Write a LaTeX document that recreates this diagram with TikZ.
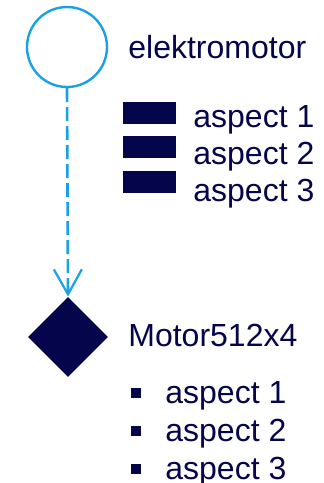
\documentclass[tikz,border=0pt]{standalone}
\usepackage{fontspec}
\setmainfont{Liberation Sans}
\usetikzlibrary{shapes.geometric,arrows.meta}
\definecolor{navy}{RGB}{5,5,75}
\definecolor{skyb}{RGB}{25,160,230}
\begin{document}
\begin{tikzpicture}[x=0.5pt,y=-0.5pt,
  lbl/.style={anchor=base west,inner sep=0,text=navy,font=\fontsize{16}{19}\selectfont},
  bar/.style={rectangle,fill=navy,minimum width=26.5pt,minimum height=11pt,inner sep=0},
  bul/.style={rectangle,fill=navy,minimum size=5pt,inner sep=0},
  dep/.style={draw=skyb,line width=1.3pt,dash pattern=on 7pt off 2.5pt,
    -{Straight Barb[length=12.5pt,width=14pt,line width=1.1pt]}}]
\useasboundingbox (0,0) rectangle (324,483);
\node[circle,draw=skyb,line width=1.2pt,minimum size=40pt,inner sep=0] (c) at (67,47) {};
\node[diamond,fill=navy,minimum width=40pt,minimum height=40pt,inner sep=0] (d) at (68,337) {};
\draw[dep] (c.south) -- (d.north);
\node[lbl] (t1) at (128,58) {elektromotor};
\node[bar] (r1) at (149,113) {};
\node[bar] (r2) at (149,147) {};
\node[bar] (r3) at (149,181.5) {};
\node[lbl] (a1) at (193,127) {aspect 1};
\node[lbl] (a2) at (193,164) {aspect 2};
\node[lbl] (a3) at (193,201) {aspect 3};
\node[lbl] (t2) at (128,346) {Motor512x4};
\node[bul] (b1) at (136,393) {};
\node[bul] (b2) at (136,430.5) {};
\node[bul] (b3) at (136,469) {};
\node[lbl] (m1) at (165,403) {aspect 1};
\node[lbl] (m2) at (165,441) {aspect 2};
\node[lbl] (m3) at (165,479) {aspect 3};
\end{tikzpicture}
\end{document}
